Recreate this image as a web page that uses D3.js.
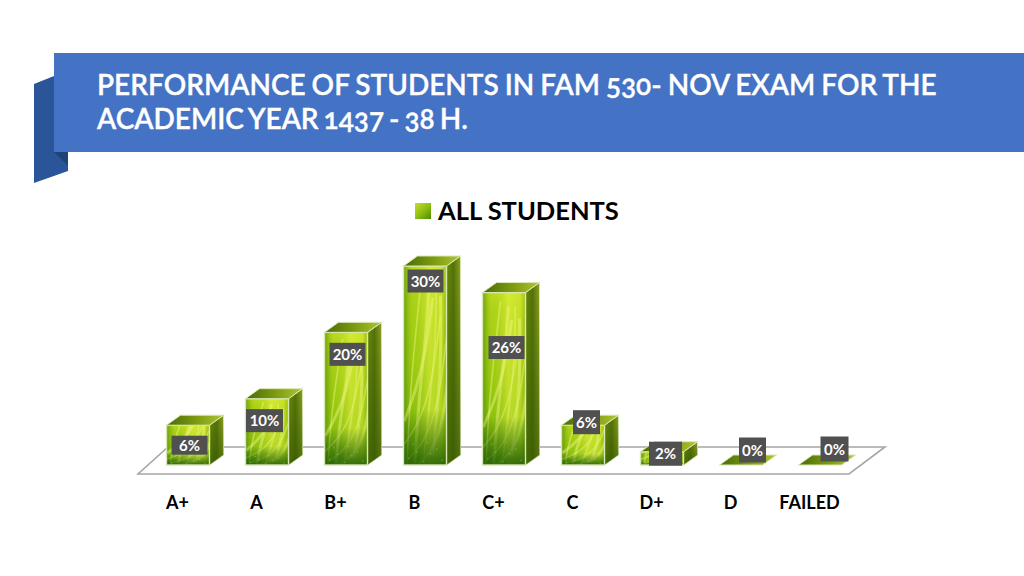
<!DOCTYPE html>
<html>
<head>
<meta charset="utf-8">
<style>
  body { margin: 0; background: #fff; }
  svg { display: block; font-family: Lato, "Open Sans", sans-serif; }
</style>
<script src="https://d3js.org/d3.v7.min.js"></script>
</head>
<body>
<svg id="chart" width="1024" height="576"></svg>
<script>
const titleLines = ["PERFORMANCE OF STUDENTS IN FAM 530- NOV EXAM FOR THE", "ACADEMIC YEAR 1437 - 38 H."];
const seriesName = "ALL STUDENTS";
const categories = ["A+", "A", "B+", "B", "C+", "C", "D+", "D", "FAILED"];
const values = [6, 10, 20, 30, 26, 6, 2, 0, 0];

// hand placed data labels in the original, so they get a nudge from the band centre / bar top
const labelNudgeX = [12, 8, 12, 11, 13, 14, 14, 22, 25];
const labelNudgeY = [20, 22, 22, 15, 55, -3, 2, -15, -16];
const labelBoxW = [36, 37, 36, 36, 36, 27, 33, 27, 28];
const labelBoxH = [19, 23, 23, 23, 23, 24, 24, 25, 25];

const svg = d3.select("#chart");
const defs = svg.append("defs");

const x = d3.scaleBand().domain(categories).range([138, 849]).paddingInner(0).paddingOuter(0);
const y = d3.scaleLinear().domain([0, 30]).range([465, 266]);
const barW = 43, depthX = 14, depthY = -10;

function gradient(id, x2, y2, stops) {
  const g = defs.append("linearGradient").attr("id", id)
    .attr("x1", 0).attr("y1", 0).attr("x2", x2).attr("y2", y2);
  stops.forEach(s => g.append("stop").attr("offset", s[0]).attr("stop-color", s[1]).attr("stop-opacity", s[2] === undefined ? 1 : s[2]));
}
gradient("front", 0, 1, [[0, "#c4de24"], [0.1, "#b4d61a"], [0.5, "#a2d012"], [0.8, "#8cc40e"], [1, "#6aa80a"]]);
gradient("frontShade", 1, 0, [[0, "#4a8406", 0.7], [0.2, "#94c40e", 0.2], [0.6, "#e0f03c", 0.65], [0.88, "#d4ea30", 0.55], [1, "#86ac0a", 0.6]]);
gradient("frontFoot", 0, 1, [[0, "#1f5c04", 0], [0.72, "#1f5c04", 0.05], [1, "#1f5c04", 0.85]]);
gradient("side", 1, 0, [[0, "#6c8a06"], [0.5, "#54740a"], [1, "#8ea01e"]]);
gradient("sideFoot", 0, 1, [[0, "#2e5002", 0], [1, "#2e5002", 0.6]]);
gradient("top", 1, 0, [[0, "#4a6a08"], [0.55, "#7f9c12"], [1, "#b0c634"]]);
gradient("legendFill", 1, 1, [[0, "#c6dc30"], [0.5, "#8fc010"], [1, "#4f8a08"]]);
defs.append("filter").attr("id", "soft").append("feGaussianBlur").attr("stdDeviation", 0.7);

// banner
svg.append("path").attr("d", "M34 84 L54 76 V152 L68 152 V171 L34 183 Z").attr("fill", "#2a5699");
svg.append("path").attr("d", "M54 152 H68 V166 Z").attr("fill", "#1f4278");
svg.append("rect").attr("x", 54).attr("y", 53).attr("width", 970).attr("height", 99).attr("fill", "#4472c4");
svg.append("g").selectAll("text").data(titleLines).join("text")
  .attr("x", 97).attr("y", (d, i) => 95 + i * 34)
  .attr("fill", "#fff").attr("stroke", "#fff").attr("stroke-width", 0.35)
  .attr("font-size", 28).attr("font-weight", 600)
  .attr("word-spacing", (d, i) => i ? -2 : -1)
  .style("font-feature-settings", '"onum"')
  .text(d => d);

// legend
svg.append("rect").attr("x", 415).attr("y", 203).attr("width", 16).attr("height", 16).attr("fill", "url(#legendFill)");
svg.append("text").attr("x", 438).attr("y", 220).attr("font-size", 25.5).attr("font-weight", 700).attr("fill", "#000").text(seriesName);

// floor
const floor = d3.path();
floor.moveTo(x.range()[0], 474);
floor.lineTo(x.range()[1], 474);
floor.lineTo(885, 447);
floor.lineTo(168, 447);
floor.closePath();
svg.append("path").attr("d", floor.toString()).attr("fill", "#fff").attr("stroke", "#a6a6a6").attr("stroke-width", 1.6);

// swirl texture for the bar fronts, given as fractions of the bar (0 = top, 1 = foot)
const streak = d3.line().curve(d3.curveBasis).x(d => d[0] * barW).y(d => d[1]);
const swirls = [
  [[0.08, 1.0], [0.16, 0.62], [0.30, 0.3], [0.42, 0.05]],
  [[0.26, 1.0], [0.36, 0.66], [0.52, 0.36], [0.60, 0.08]],
  [[0.48, 0.95], [0.62, 0.66], [0.76, 0.36], [0.76, 0.08]],
  [[0.68, 0.95], [0.80, 0.7], [0.88, 0.42], [0.86, 0.15]],
  [[0.00, 0.90], [0.34, 0.80], [0.66, 0.60], [0.86, 0.25]],
  [[0.02, 0.78], [0.26, 0.64], [0.50, 0.46], [0.68, 0.16]],
  [[0.10, 0.97], [0.52, 0.88], [0.84, 0.66], [1.00, 0.36]],
  [[0.34, 1.0], [0.70, 0.92], [0.92, 0.78], [1.04, 0.55]]
];
// light flecks near the foot of the bar
const flecks = [[0.12, 0.96], [0.31, 0.92], [0.47, 0.98], [0.63, 0.93], [0.77, 0.90], [0.90, 0.97], [0.22, 0.87], [0.55, 0.86]];

const bars = svg.append("g").selectAll("g").data(categories).join("g")
  .attr("transform", d => `translate(${x(d) + x.bandwidth() / 2 - 11},0)`);

bars.each(function (cat, i) {
  const g = d3.select(this), top = y(values[i]), h = y(0) - top, base = y(0);
  const edge = "#d8e8b4";
  if (h > 0) {
    // side
    const sideD = `M${barW} ${top} l${depthX} ${depthY} V${base + depthY} l${-depthX} ${-depthY} Z`;
    g.append("path").attr("d", sideD).attr("fill", "url(#side)").attr("stroke", edge).attr("stroke-width", 1);
    g.append("path").attr("d", sideD).attr("fill", "url(#sideFoot)");
    // front
    g.append("rect").attr("y", top).attr("width", barW).attr("height", h).attr("fill", "url(#front)");
    defs.append("clipPath").attr("id", "clip" + i).append("rect").attr("y", top).attr("width", barW).attr("height", h);
    const tex = g.append("g").attr("clip-path", `url(#clip${i})`);
    tex.append("rect").attr("y", top).attr("width", barW).attr("height", h).attr("fill", "url(#frontShade)");
    const span = Math.max(h, 55);
    tex.append("g").attr("filter", "url(#soft)").selectAll("path").data(swirls).join("path")
      .attr("d", s => streak(s.map(p => [p[0], base - (1 - p[1]) * span])))
      .attr("fill", "none").attr("stroke", "#eef878").attr("stroke-width", (s, k) => k % 2 ? 3 : 1.6)
      .attr("opacity", 0.5);
    tex.append("rect").attr("y", top).attr("width", barW).attr("height", h).attr("fill", "url(#frontFoot)");
    tex.selectAll("circle").data(flecks).join("circle")
      .attr("cx", f => f[0] * barW).attr("cy", f => base - (1 - f[1]) * Math.min(span, 160))
      .attr("r", 0.7).attr("fill", "#d8f060").attr("opacity", 0.4);
    g.append("rect").attr("y", top).attr("width", barW).attr("height", h)
      .attr("fill", "none").attr("stroke", edge).attr("stroke-width", 1.4);
  }
  // top face, also the flat sliver for the zero bars
  g.append("path").attr("d", `M0 ${top} l${depthX} ${depthY} h${barW} l${-depthX} ${-depthY} Z`)
    .attr("fill", "url(#top)").attr("stroke", edge).attr("stroke-width", 1);
});

// data labels
const labels = svg.append("g").selectAll("g").data(categories).join("g")
  .attr("transform", (d, i) => `translate(${x(d) + x.bandwidth() / 2 + labelNudgeX[i]},${y(values[i]) + labelNudgeY[i]})`);
labels.append("rect")
  .attr("x", (d, i) => -labelBoxW[i] / 2).attr("y", (d, i) => -labelBoxH[i] / 2)
  .attr("width", (d, i) => labelBoxW[i]).attr("height", (d, i) => labelBoxH[i]).attr("fill", "#505050");
labels.append("text").attr("text-anchor", "middle").attr("y", 5.5).attr("fill", "#fff")
  .attr("font-size", 15).attr("font-weight", 700)
  .text((d, i) => values[i] + "%");

// category axis, no line of its own
const axis = d3.axisBottom(x).tickSize(0).tickPadding(0);
const axisG = svg.append("g").attr("transform", "translate(0,496)").call(axis);
axisG.select(".domain").remove();
axisG.selectAll("text").attr("font-family", "Lato, 'Open Sans', sans-serif")
  .attr("font-size", 18).attr("font-weight", 700).attr("fill", "#000");
</script>
</body>
</html>
